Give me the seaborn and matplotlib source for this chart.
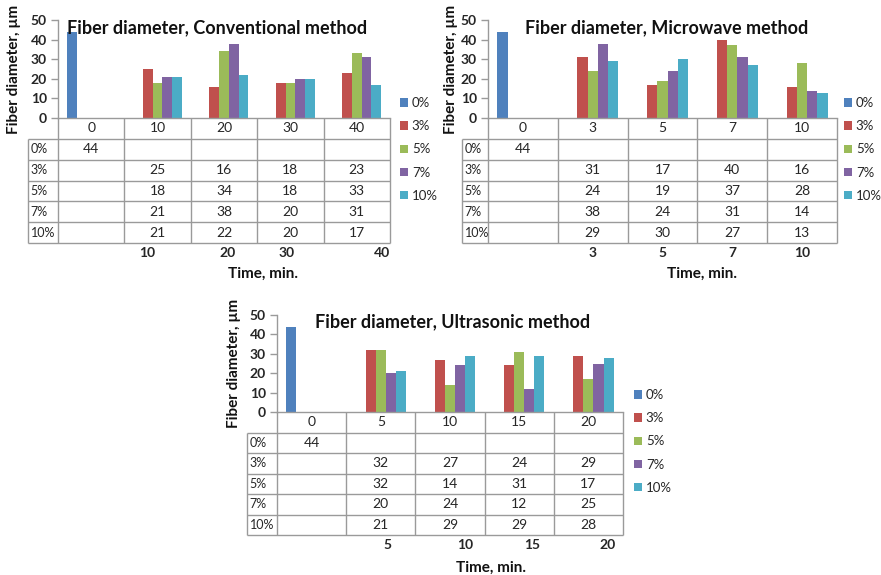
import matplotlib
matplotlib.use("Agg")
import matplotlib.pyplot as plt
from matplotlib.patches import Patch
import pandas as pd
import seaborn as sns

# ---- data -------------------------------------------------------------
concentrations = ["0%", "3%", "5%", "7%", "10%"]
bar_colors = ["#4F81BD", "#C0504D", "#9BBB59", "#8064A2", "#4BACC6"]

conv_times = ["0", "10", "20", "30", "40"]
conv_0 = [44, None, None, None, None]
conv_3 = [None, 25, 16, 18, 23]
conv_5 = [None, 18, 34, 18, 33]
conv_7 = [None, 21, 38, 20, 31]
conv_10 = [None, 21, 22, 20, 17]

micro_times = ["0", "3", "5", "7", "10"]
micro_0 = [44, None, None, None, None]
micro_3 = [None, 31, 17, 40, 16]
micro_5 = [None, 24, 19, 37, 28]
micro_7 = [None, 38, 24, 31, 14]
micro_10 = [None, 29, 30, 27, 13]

ultra_times = ["0", "5", "10", "15", "20"]
ultra_0 = [44, None, None, None, None]
ultra_3 = [None, 32, 27, 24, 29]
ultra_5 = [None, 32, 14, 31, 17]
ultra_7 = [None, 20, 24, 12, 25]
ultra_10 = [None, 21, 29, 29, 28]

y_ticks = [0, 10, 20, 30, 40, 50]

# ---- styling ------------------------------------------------------------
sns.set_theme(style="white")
plt.rcParams["font.family"] = ["Lato", "DejaVu Sans"]

W, H = 881, 575
GRID = "#9A9A9A"
TEXT = "#262626"

fig = plt.figure(figsize=(W / 100, H / 100), dpi=100)
fig.patch.set_facecolor("white")


def fig_box(x0, y0, x1, y1):
    return [x0 / W, 1 - y1 / H, (x1 - x0) / W, (y1 - y0) / H]


panels = [
    dict(title="Fiber diameter, Conventional method", times=conv_times,
         series=[conv_0, conv_3, conv_5, conv_7, conv_10],
         axes=(58, 20, 390, 118), label_left=28, table_bottom=243,
         legend=(400, 97), ylabel_x=14, title_xy=(217, 28),
         time_xy=(263, 274), under_offsets=[-0.15, 0.05, -0.05, 0.38]),
    dict(title="Fiber diameter, Microwave method", times=micro_times,
         series=[micro_0, micro_3, micro_5, micro_7, micro_10],
         axes=(488, 20, 837, 118), label_left=462, table_bottom=243,
         legend=(844, 97), ylabel_x=451, title_xy=(667, 28),
         time_xy=(702, 274), under_offsets=[0.0, 0.0, 0.0, 0.0]),
    dict(title="Fiber diameter, Ultrasonic method", times=ultra_times,
         series=[ultra_0, ultra_3, ultra_5, ultra_7, ultra_10],
         axes=(277, 315, 623, 412), label_left=247, table_bottom=535,
         legend=(634, 389), ylabel_x=234, title_xy=(453, 322),
         time_xy=(491, 568), under_offsets=[0.1, 0.22, 0.18, 0.28]),
]

for p in panels:
    times = p["times"]
    rows = []
    for conc, vals in zip(concentrations, p["series"]):
        for t, v in zip(times, vals):
            if v is not None:
                rows.append({"time": t, "conc": conc, "value": v})
    df = pd.DataFrame(rows)

    x0, y0, x1, y1 = p["axes"]
    ax = fig.add_axes(fig_box(x0, y0, x1, y1))
    sns.barplot(data=df, x="time", y="value", hue="conc", order=times,
                hue_order=concentrations,
                palette=dict(zip(concentrations, bar_colors)),
                width=0.73, saturation=1, errorbar=None, linewidth=0,
                legend=False, ax=ax)
    ax.set_xlim(-0.5, len(times) - 0.5)
    ax.set_ylim(0, 50)
    ax.set_yticks(y_ticks)
    ax.set_xticks([])
    ax.set_xlabel("")
    ax.set_ylabel("")
    ax.set_facecolor("none")
    for side in ("top", "right"):
        ax.spines[side].set_visible(False)
    for side in ("left", "bottom"):
        ax.spines[side].set_color(GRID)
        ax.spines[side].set_linewidth(1)
    ax.tick_params(axis="y", left=True, length=5, width=1, color=GRID,
                   direction="out", pad=3, labelsize=10, labelcolor=TEXT)
    for lab in ax.get_yticklabels():
        lab.set_fontweight("bold")

    # data table below the bars
    n = len(times)
    cat_w = (x1 - x0) / n
    lc = (x0 - p["label_left"]) / cat_w
    ta = fig.add_axes(fig_box(p["label_left"], y1, x1, p["table_bottom"]))
    ta.set_xlim(-0.5 - lc, n - 0.5)
    ta.set_ylim(len(concentrations) + 1, 0)
    ta.axis("off")
    nrow = len(concentrations) + 1
    ta.hlines(range(1, nrow + 1), -0.5 - lc, n - 0.5, color=GRID, lw=1,
              clip_on=False)
    ta.vlines([k - 0.5 for k in range(n + 1)], 0, nrow, color=GRID, lw=1,
              clip_on=False)
    ta.vlines(-0.5 - lc, 1, nrow, color=GRID, lw=1, clip_on=False)
    for i, t in enumerate(times):
        ta.text(i, 0.5, t, ha="center", va="center", fontsize=10, color=TEXT)
    for r, (conc, vals) in enumerate(zip(concentrations, p["series"])):
        ta.text(-0.5 - lc + 0.04, r + 1.5, conc, ha="left", va="center",
                fontsize=9, color=TEXT)
        for i, v in enumerate(vals):
            if v is not None:
                ta.text(i, r + 1.5, str(v), ha="center", va="center",
                        fontsize=10, color=TEXT)
    for i, off in zip(range(1, n), p["under_offsets"]):
        ta.text(i + off, nrow + 0.5, times[i], ha="center", va="center",
                fontsize=10, fontweight="bold", color=TEXT)

    # titles and axis labels
    tx, ty = p["title_xy"]
    fig.text(tx / W, 1 - ty / H, p["title"], ha="center", va="center",
             fontsize=13, fontweight="bold", color="#111111")
    fig.text(p["ylabel_x"] / W, 1 - (y0 + y1) / 2 / H, "Fiber diameter, µm",
             rotation=90, ha="center", va="center", fontsize=11,
             fontweight="bold", color="#111111")
    mx, my = p["time_xy"]
    fig.text(mx / W, 1 - my / H, "Time, min.", ha="center", va="center",
             fontsize=11, fontweight="bold", color="#111111")

    lx, ly = p["legend"]
    handles = [Patch(facecolor=c, edgecolor="none", label=l)
               for c, l in zip(bar_colors, concentrations)]
    ax.legend(handles=handles, loc="upper left",
              bbox_to_anchor=(lx / W, 1 - ly / H),
              bbox_transform=fig.transFigure, frameon=False,
              handlelength=0.6, handleheight=0.6, handletextpad=0.3,
              labelspacing=0.85, fontsize=9.5, borderaxespad=0, borderpad=0,
              labelcolor=TEXT)

fig.savefig("out.png", dpi=100, facecolor="white")
